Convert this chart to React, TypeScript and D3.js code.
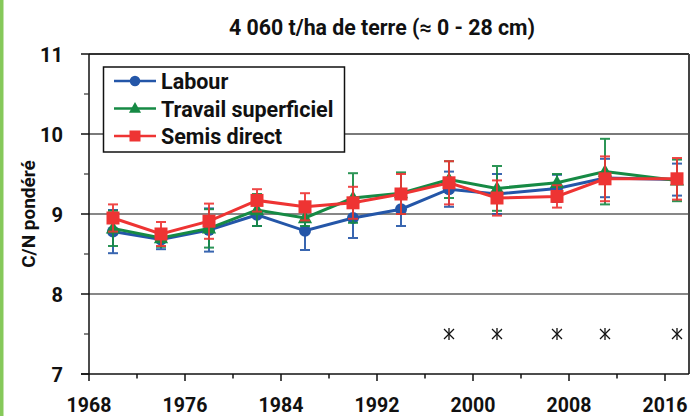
import React from "react";
import * as d3 from "d3";

const years = [1970, 1974, 1978, 1982, 1986, 1990, 1994, 1998, 2002, 2007, 2011, 2017];
const labourValues = [8.78, 8.68, 8.8, 8.99, 8.79, 8.95, 9.06, 9.31, 9.25, 9.32, 9.45, 9.43];
const labourErrors = [0.27, 0.12, 0.27, 0.14, 0.24, 0.25, 0.21, 0.22, 0.25, 0.17, 0.24, 0.2];
const travailValues = [8.82, 8.7, 8.82, 9.05, 8.95, 9.2, 9.26, 9.43, 9.32, 9.39, 9.53, 9.42];
const travailErrors = [0.22, 0.11, 0.24, 0.2, 0.1, 0.31, 0.26, 0.23, 0.28, 0.11, 0.41, 0.26];
const semisValues = [8.95, 8.75, 8.91, 9.17, 9.09, 9.14, 9.25, 9.39, 9.2, 9.22, 9.44, 9.44];
const semisErrors = [0.17, 0.15, 0.22, 0.14, 0.17, 0.2, 0.25, 0.27, 0.22, 0.14, 0.28, 0.26];
const seriesNames = ["Labour", "Travail superficiel", "Semis direct"];
const significantYears = [1998, 2002, 2007, 2011, 2017];
const significantLevel = 7.5;
const yTickValues = [7, 8, 9, 10, 11];
const xTickValues = [1968, 1972, 1976, 1980, 1984, 1988, 1992, 1996, 2000, 2004, 2008, 2012, 2016];
const xLabelValues = [1968, 1976, 1984, 1992, 2000, 2008, 2016];
const title = "4 060 t/ha de terre (≈ 0 - 28 cm)";
const yTitle = "C/N pondéré";

const W = 690;
const H = 416;
const FONT = "Roboto, 'DejaVu Sans', sans-serif";

const series = [
  { name: seriesNames[0], values: labourValues, errors: labourErrors, color: "#2456a8", shape: "circle" },
  { name: seriesNames[1], values: travailValues, errors: travailErrors, color: "#168a44", shape: "triangle" },
  { name: seriesNames[2], values: semisValues, errors: semisErrors, color: "#ee3433", shape: "square" },
];

function Marker({ shape, x, y, color, size }: { shape: string; x: number; y: number; color: string; size: number }) {
  if (shape === "circle") return <circle cx={x} cy={y} r={size / 2} fill={color} />;
  if (shape === "square")
    return <rect x={x - size / 2} y={y - size / 2} width={size} height={size} fill={color} />;
  const s = size * 1.1;
  const h = s * 0.9;
  return (
    <path
      d={`M${x},${y - h * 0.6}L${x + s / 2},${y + h * 0.4}L${x - s / 2},${y + h * 0.4}Z`}
      fill={color}
    />
  );
}

export default function App() {
  const x = d3.scaleLinear().domain([1968, 2018]).range([89, 689]);
  const y = d3.scaleLinear().domain([7, 11]).range([374, 54]);
  const line = d3
    .line<number>()
    .x((_, i) => x(years[i]))
    .y((v) => y(v));

  const minorY = d3.range(7.5, 11, 1);

  return (
    <svg
      width={W}
      height={H}
      style={{ position: "absolute", left: 0, top: 0, background: "#fff" }}
      fontFamily={FONT}
    >
      <rect x={0} y={0} width={3.5} height={H} fill="#86c95a" />
      <text x={382} y={35} textAnchor="middle" fontSize={21.3} fontWeight={700} fill="#111">
        {title}
      </text>

      {/* gridlines */}
      {yTickValues
        .filter((v) => v > 7 && v < 11)
        .map((v) => (
          <line
            key={"g" + v}
            x1={x(1968)}
            x2={x(2018)}
            y1={y(v)}
            y2={y(v)}
            stroke={v === 10 ? "#7a7a7a" : "#111"}
            strokeWidth={v === 10 ? 2 : 1.2}
          />
        ))}
      {/* frame top and right */}
      <line x1={x(1968)} x2={x(2018)} y1={y(11)} y2={y(11)} stroke="#333" strokeWidth={2} />
      <line x1={x(2018)} x2={x(2018)} y1={y(11)} y2={y(7)} stroke="#444" strokeWidth={2} />
      {/* axes */}
      <line x1={x(1968)} x2={x(1968)} y1={y(11)} y2={y(7)} stroke="#111" strokeWidth={1.5} />
      <line x1={x(1968) - 8} x2={x(2018)} y1={y(7)} y2={y(7)} stroke="#111" strokeWidth={1.5} />
      {yTickValues.map((v) => (
        <g key={"yt" + v}>
          <line x1={x(1968) - 8} x2={x(1968)} y1={y(v)} y2={y(v)} stroke="#111" strokeWidth={1.5} />
          <text x={63} y={y(v) + 7.5} textAnchor="end" fontSize={20} fontWeight={700} fill="#111">
            {v}
          </text>
        </g>
      ))}
      {minorY.map((v) => (
        <line key={"ym" + v} x1={x(1968) - 5} x2={x(1968)} y1={y(v)} y2={y(v)} stroke="#333" strokeWidth={1.2} />
      ))}
      {xTickValues.map((v) => (
        <line
          key={"xt" + v}
          x1={x(v)}
          x2={x(v)}
          y1={y(7)}
          y2={y(7) + (xLabelValues.includes(v) ? 7 : 4.5)}
          stroke="#111"
          strokeWidth={1.5}
        />
      ))}
      {xLabelValues.map((v) => (
        <text key={"xl" + v} x={x(v)} y={412} textAnchor="middle" fontSize={19.5} fontWeight={700} fill="#111">
          {v}
        </text>
      ))}
      <text
        transform={`translate(35,${y(9)}) rotate(-90)`}
        textAnchor="middle"
        fontSize={19}
        fontWeight={700}
        fill="#111"
      >
        {yTitle}
      </text>

      {/* series */}
      {series.map((s) => (
        <g key={s.name}>
          {s.values.map((v, i) => {
            const cx = x(years[i]);
            const lo = y(v - s.errors[i]);
            const hi = y(v + s.errors[i]);
            return (
              <g key={i} stroke={s.color} strokeWidth={2} opacity={0.9}>
                <line x1={cx} x2={cx} y1={lo} y2={hi} />
                <line x1={cx - 5} x2={cx + 5} y1={lo} y2={lo} />
                <line x1={cx - 5} x2={cx + 5} y1={hi} y2={hi} />
              </g>
            );
          })}
          <path d={line(s.values) || ""} fill="none" stroke={s.color} strokeWidth={3} />
          {s.values.map((v, i) => (
            <Marker key={i} shape={s.shape} x={x(years[i])} y={y(v)} color={s.color} size={s.shape === "circle" ? 12 : 13} />
          ))}
        </g>
      ))}

      {/* significance asterisks */}
      {significantYears.map((yr) => {
        const cx = x(yr);
        const cy = y(significantLevel);
        return (
          <g key={"s" + yr} stroke="#111" strokeWidth={1.3}>
            <line x1={cx} x2={cx} y1={cy - 6} y2={cy + 6} />
            <line x1={cx - 5} x2={cx + 5} y1={cy - 5} y2={cy + 5} />
            <line x1={cx - 5} x2={cx + 5} y1={cy + 5} y2={cy - 5} />
          </g>
        );
      })}

      {/* legend */}
      <rect x={103.5} y={67} width={241} height={85} fill="#fff" stroke="#111" strokeWidth={1.5} />
      {series.map((s, i) => {
        const ly = 81 + i * 27.5;
        return (
          <g key={"lg" + s.name}>
            <line x1={114} x2={156} y1={ly} y2={ly} stroke={s.color} strokeWidth={2.5} />
            <Marker shape={s.shape} x={135} y={ly} color={s.color} size={s.shape === "circle" ? 10.5 : 11} />
            <text x={161} y={ly + 8} fontSize={21.5} fontWeight={700} fill="#111">
              {s.name}
            </text>
          </g>
        );
      })}
    </svg>
  );
}
